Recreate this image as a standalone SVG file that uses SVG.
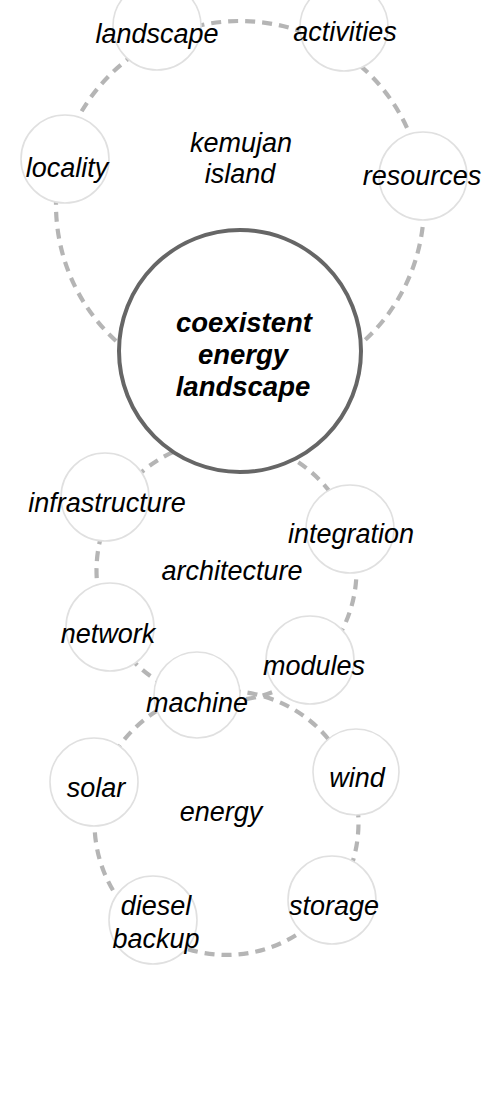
<svg xmlns="http://www.w3.org/2000/svg" width="489" height="1119" viewBox="0 0 489 1119">
<style>
.link{fill:none;stroke:#b5b5b5;stroke-width:4.2;stroke-dasharray:10 7}
.node{fill:#fff;stroke:#e0e0e0;stroke-width:1.6}
.hub{fill:#fff;stroke:#666;stroke-width:4}
text{font-family:"Liberation Sans",Arial,Helvetica,sans-serif;font-style:italic;font-size:27px;fill:#000;text-anchor:middle}
.bold{font-weight:bold;font-size:27.5px}
</style>
<rect width="489" height="1119" fill="#fff"/>
<g id="connectors">
<path class="link" d="M240,389 A184,184 0 0 1 62.05,158.2"/>
<path class="link" d="M62.05,158.2 A184,184 0 0 1 162.6,38.1"/>
<path class="link" d="M162.6,38.1 A184,184 0 0 1 332.8,46.1"/>
<path class="link" d="M332.8,46.1 A184,184 0 0 1 421.7,176.2"/>
<path class="link" d="M421.7,176.2 A184,184 0 0 1 240,389"/>
<path class="link" d="M315.2,665.6 A130,130 0 0 1 196.5,697.1"/>
<path class="link" d="M196.5,697.1 A130,130 0 0 1 109.5,627.2"/>
<path class="link" d="M109.5,627.2 A130,130 0 0 1 115.3,503.2"/>
<path class="link" d="M115.3,503.2 A130,130 0 0 1 234.5,440.9"/>
<path class="link" d="M234.5,440.9 A130,130 0 0 1 349.7,529.1"/>
<path class="link" d="M349.7,529.1 A130,130 0 0 1 315.2,665.6"/>
<path class="link" d="M333.1,900.8 A132,132 0 0 1 146.7,928.1"/>
<path class="link" d="M146.7,928.1 A132,132 0 0 1 100.4,784"/>
<path class="link" d="M100.4,784 A132,132 0 0 1 196.8,694.4"/>
<path class="link" d="M196.8,694.4 A132,132 0 0 1 349.3,774.6"/>
<path class="link" d="M349.3,774.6 A132,132 0 0 1 333.1,900.8"/>
</g>
<g id="node-landscape"><circle class="node" cx="157" cy="26" r="44"/><text x="157" y="43">landscape</text></g>
<g id="node-activities"><circle class="node" cx="344" cy="27" r="44"/><text x="345" y="41">activities</text></g>
<g id="node-locality"><circle class="node" cx="65" cy="159" r="44"/><text x="67" y="177">locality</text></g>
<g id="node-resources"><circle class="node" cx="423" cy="176" r="44"/><text x="422" y="185">resources</text></g>
<g id="label-kemujan"><text x="241" y="152">kemujan</text><text x="240" y="183">island</text></g>
<g id="node-hub"><circle class="hub" cx="240" cy="351" r="121"/><text class="bold" x="244" y="332">coexistent</text><text class="bold" x="243" y="364">energy</text><text class="bold" x="243" y="396">landscape</text></g>
<g id="node-infrastructure"><circle class="node" cx="105" cy="497" r="44"/><text x="107" y="512">infrastructure</text></g>
<g id="node-integration"><circle class="node" cx="350" cy="529" r="44"/><text x="351" y="543">integration</text></g>
<g id="label-architecture"><text x="232" y="580">architecture</text></g>
<g id="node-network"><circle class="node" cx="110" cy="627" r="44"/><text x="108" y="643">network</text></g>
<g id="node-modules"><circle class="node" cx="310" cy="660" r="44"/><text x="314" y="675">modules</text></g>
<g id="node-machine"><circle class="node" cx="197" cy="695" r="43"/><text x="197" y="712">machine</text></g>
<g id="node-solar"><circle class="node" cx="94" cy="782" r="44"/><text x="96" y="797">solar</text></g>
<g id="node-wind"><circle class="node" cx="356" cy="772" r="43"/><text x="357" y="787">wind</text></g>
<g id="label-energy"><text x="221" y="821">energy</text></g>
<g id="node-diesel"><circle class="node" cx="153" cy="920" r="44"/><text x="156" y="915">diesel</text><text x="156" y="948">backup</text></g>
<g id="node-storage"><circle class="node" cx="332" cy="900" r="44"/><text x="334" y="915">storage</text></g>
</svg>
